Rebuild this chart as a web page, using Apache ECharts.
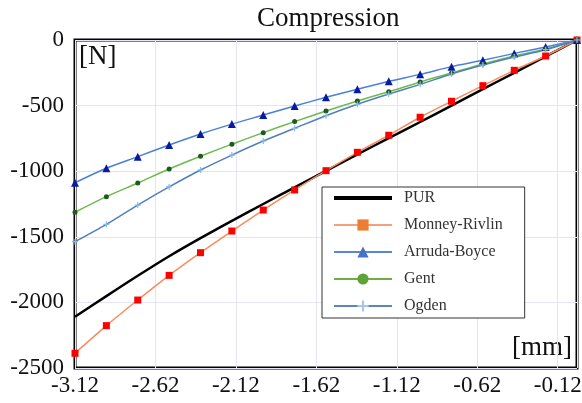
<!DOCTYPE html>
<html>
<head>
<meta charset="utf-8">
<script src="https://cdn.jsdelivr.net/npm/echarts@6/dist/echarts.min.js"></script>
<style>
  html, body { margin: 0; padding: 0; background: #fff; }
  #chart { width: 582px; height: 403px; }
</style>
</head>
<body>
<div id="chart"></div>
<script>
  // displacement [mm], 17 samples from -3.12 to 0
  const disp = [-3.12, -2.925, -2.73, -2.535, -2.34, -2.145, -1.95, -1.755, -1.56,
                -1.365, -1.17, -0.975, -0.78, -0.585, -0.39, -0.195, 0];
  // force [N]
  const purForce = [-2110, -1952, -1797, -1648, -1510, -1378, -1250, -1124, -998,
                    -872, -748, -625, -500, -375, -250, -125, 0];
  const mooneyForce = [-2388, -2177, -1982, -1794, -1621, -1456, -1296, -1143, -996,
                       -856, -726, -589, -467, -348, -231, -122, 0];
  const arrudaForce = [-1088, -978, -889, -800, -716, -641, -572, -503, -437,
                       -376, -315, -262, -203, -155, -102, -53, 0];
  const gentForce = [-1313, -1194, -1090, -983, -886, -794, -706, -622, -541,
                     -465, -394, -320, -252, -183, -122, -69, 0];
  const ogdenForce = [-1537, -1405, -1258, -1120, -991, -877, -770, -673, -577,
                      -490, -412, -338, -259, -191, -130, -74, 0];
  const seriesNames = ['PUR', 'Monney-Rivlin', 'Arruda-Boyce', 'Gent', 'Ogden'];

  const serif = 'Liberation Serif';
  const plus = 'path://M4,0H6V4H10V6H6V10H4V6H0V4H4Z';

  function pairs(ys) {
    return disp.map((x, i) => [x, ys[i]]);
  }

  const chart = echarts.init(document.getElementById('chart'));
  chart.setOption({
    animation: false,
    title: {
      text: 'Compression',
      left: 252,
      top: 0,
      textStyle: { fontFamily: serif, fontSize: 27, fontWeight: 'normal', color: '#111' }
    },
    grid: {
      left: 75, right: 5, top: 40, bottom: 35,
      show: true, borderColor: '#000', borderWidth: 3,
      outerBoundsMode: 'none'
    },
    xAxis: {
      type: 'value',
      min: -3.12, max: 0, interval: 0.5,
      axisLine: { show: false },
      axisTick: { show: false },
      splitLine: { lineStyle: { color: '#e4e4f6', width: 1 } },
      axisLabel: {
        showMaxLabel: false,
        margin: 6,
        fontFamily: serif, fontSize: 23, color: '#111',
        formatter: v => v.toFixed(2)
      }
    },
    yAxis: {
      type: 'value',
      min: -2500, max: 0, interval: 500,
      axisLine: { show: false },
      axisTick: { show: false },
      splitLine: { lineStyle: { color: '#e4e4f6', width: 1 } },
      axisLabel: {
        margin: 11, fontFamily: serif, fontSize: 23, color: '#111',
        formatter: v => String(v)
      }
    },
    legend: {
      orient: 'vertical',
      left: 322, top: 187,
      padding: [3, 22, 4, 10],
      itemGap: 11,
      itemWidth: 58, itemHeight: 14,
      backgroundColor: '#fff',
      borderColor: '#333', borderWidth: 1,
      textStyle: { fontFamily: serif, fontSize: 16, lineHeight: 16, color: '#333', padding: [0, 0, 0, 7] },
      data: [
        { name: 'PUR', itemStyle: { opacity: 0 }, lineStyle: { color: '#000', width: 4 } },
        { name: 'Monney-Rivlin', itemStyle: { color: '#ed7d31' }, lineStyle: { color: '#f4a07a', width: 2 } },
        { name: 'Arruda-Boyce', itemStyle: { color: '#4472c4' }, lineStyle: { color: '#5b86d6', width: 2 } },
        { name: 'Gent', itemStyle: { color: '#5ea33a' }, lineStyle: { color: '#70ad47', width: 2 } },
        { name: 'Ogden', itemStyle: { color: '#a9c6ea' }, lineStyle: { color: '#5b85bd', width: 2 } }
      ]
    },
    graphic: [
      { type: 'text', left: 79, top: 43, style: { text: '[N]', font: '27px "Liberation Serif"', fill: '#111' } },
      { type: 'text', right: 10, top: 334, style: { text: '[mm]', font: '27px "Liberation Serif"', fill: '#111' } }
    ],
    series: [
      {
        name: seriesNames[0], type: 'line', data: pairs(purForce),
        showSymbol: false, smooth: 0.3,
        lineStyle: { color: '#000', width: 2.5 },
        itemStyle: { color: '#000' }
      },
      {
        name: seriesNames[1], type: 'line', data: pairs(mooneyForce),
        symbol: 'rect', symbolSize: 7, smooth: 0.3,
        lineStyle: { color: '#fb8a5c', width: 1.5 },
        itemStyle: { color: '#f00' }
      },
      {
        name: seriesNames[2], type: 'line', data: pairs(arrudaForce),
        symbol: 'triangle', symbolSize: 8, smooth: 0.3,
        lineStyle: { color: '#4a7fe0', width: 1.5 },
        itemStyle: { color: '#0a1aa0' }
      },
      {
        name: seriesNames[3], type: 'line', data: pairs(gentForce),
        symbol: 'circle', symbolSize: 5, smooth: 0.3,
        lineStyle: { color: '#6cbb4c', width: 1.5 },
        itemStyle: { color: '#1d5a1d' }
      },
      {
        name: seriesNames[4], type: 'line', data: pairs(ogdenForce),
        symbol: plus, symbolSize: 6, smooth: 0.3,
        lineStyle: { color: '#4f7fbf', width: 1.5 },
        itemStyle: { color: '#8db6ea' }
      }
    ]
  });
</script>
</body>
</html>
